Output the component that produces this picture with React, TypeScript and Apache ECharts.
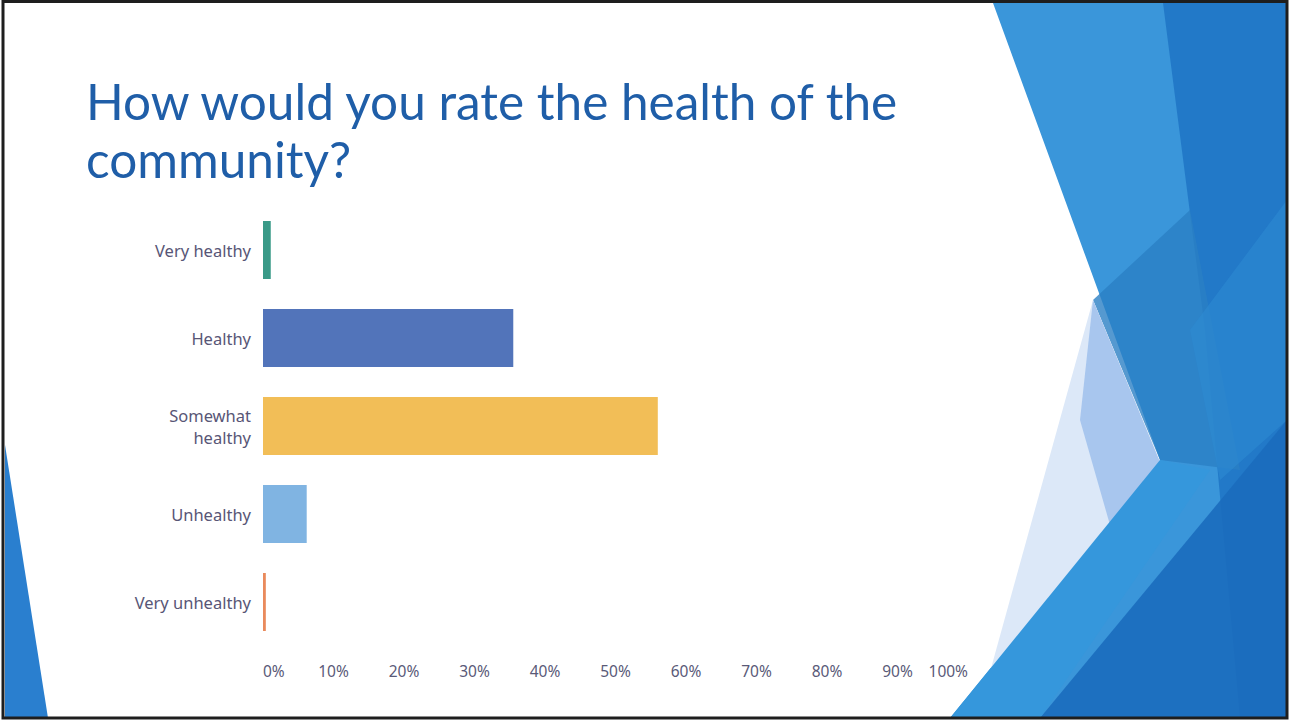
import React, { useEffect, useRef } from "react";
import * as echarts from "echarts";

const categories = ["Very healthy", "Healthy", "Somewhat\nhealthy", "Unhealthy", "Very unhealthy"];
const values = [1.1, 35.5, 56.0, 6.2, 0.4];
const barColors = ["#3a9a88", "#5274ba", "#f2be57", "#80b4e2", "#e98a5c"];
const xTicks = [0, 10, 20, 30, 40, 50, 60, 70, 80, 90, 100];

const titleText = "How would you rate the health of the\ncommunity?";

export default function App() {
  const ref = useRef<HTMLDivElement>(null);
  useEffect(() => {
    if (!ref.current) return;
    const chart = echarts.init(ref.current, null, { renderer: "svg" });
    chart.setOption({
      animation: false,
      backgroundColor: "#ffffff",
      graphic: [
        { type: "polygon", shape: { points: [[993, 3], [1287, 3], [1287, 718], [950, 718], [1160, 460]] }, style: { fill: "#3a96da" }, z: 0 },
        { type: "polygon", shape: { points: [[1163, 3], [1287, 3], [1287, 718], [1240, 718], [1205, 330]] }, style: { fill: "#1f74c4", opacity: 0.85 }, z: 0 },
        { type: "polygon", shape: { points: [[1093, 300], [1190, 210], [1240, 470], [1160, 460]] }, style: { fill: "#2a7fc4", opacity: 0.8 }, z: 0 },
        { type: "polygon", shape: { points: [[1040, 718], [1287, 420], [1287, 718]] }, style: { fill: "#1b6bbc", opacity: 0.9 }, z: 0 },
        { type: "polygon", shape: { points: [[1190, 330], [1287, 200], [1287, 420], [1220, 480]] }, style: { fill: "#2d8ad2", opacity: 0.6 }, z: 0 },
        { type: "polygon", shape: { points: [[1093, 300], [1160, 462], [1000, 690], [985, 690]] }, style: { fill: "#dce8f8" }, z: 0 },
        { type: "polygon", shape: { points: [[1093, 300], [1160, 462], [1110, 525], [1080, 420]] }, style: { fill: "#a8c6ee" }, z: 0 },
        { type: "polygon", shape: { points: [[950, 718], [1160, 460], [1210, 470], [1040, 718]] }, style: { fill: "#3597dc" }, z: 0 },
        { type: "polygon", shape: { points: [[5, 445], [48, 718], [5, 718]] }, style: { fill: "#2a7fcf" }, z: 0 },
        { type: "rect", shape: { x: 3, y: 1.5, width: 1284, height: 716.5 }, style: { fill: "none", stroke: "#1e1e1e", lineWidth: 3 }, z: 10 },
        {
          type: "text",
          left: 86,
          top: 72,
          style: {
            text: titleText,
            font: "49.5px Lato",
            fill: "#1f5ea8",
            lineHeight: 58,
          },
        },
      ],
      grid: { left: 263, right: 323, top: 206, bottom: 76 },
      xAxis: {
        type: "value",
        min: 0,
        max: 100,
        interval: 10,
        axisLine: { show: false },
        axisTick: { show: false },
        splitLine: { show: false },
        axisLabel: {
          formatter: (v: number) => (xTicks.includes(v) ? v + "%" : ""),
          color: "#5a5a78",
          fontFamily: "Noto Sans",
          fontSize: 15.5,
          margin: 17,
          alignMinLabel: "left",
          alignMaxLabel: "right",
        },
      },
      yAxis: {
        type: "category",
        inverse: true,
        data: categories,
        axisLine: { show: false },
        axisTick: { show: false },
        splitLine: { show: false },
        axisLabel: {
          color: "#585676",
          fontFamily: "Noto Sans",
          fontSize: 16.5,
          margin: 12,
          lineHeight: 22,
        },
      },
      series: [
        {
          type: "bar",
          barWidth: 58,
          data: values.map((v, i) => ({ value: v, itemStyle: { color: barColors[i] } })),
        },
      ],
    });
    return () => chart.dispose();
  }, []);
  return <div ref={ref} style={{ position: "fixed", left: 0, top: 0, width: 1291, height: 722 }} />;
}
